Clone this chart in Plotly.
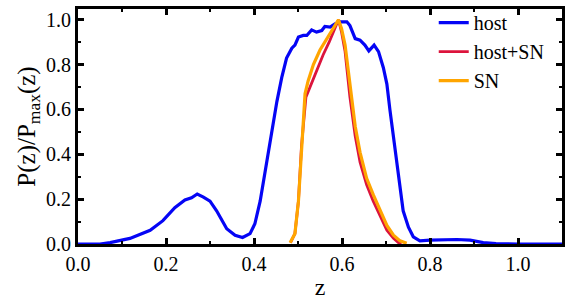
import plotly.graph_objects as go

# host photo-z PDF
host_z = [0.0, 0.02, 0.05, 0.073, 0.118, 0.164, 0.193, 0.22, 0.243, 0.258, 0.271, 0.285, 0.3, 0.315,
          0.338, 0.357, 0.374, 0.391, 0.402, 0.414, 0.429, 0.44, 0.452, 0.463, 0.474, 0.486, 0.493,
          0.501, 0.512, 0.52, 0.531, 0.542, 0.554, 0.561, 0.573, 0.584, 0.595, 0.611, 0.618, 0.63,
          0.641, 0.652, 0.661, 0.673, 0.683, 0.694, 0.702, 0.709, 0.717, 0.724, 0.732, 0.739, 0.751,
          0.762, 0.777, 0.8, 0.861, 0.891, 0.921, 0.95, 1.0, 1.1]
host_p = [0.0, 0.0, 0.0, 0.006, 0.025, 0.061, 0.104, 0.162, 0.196, 0.206, 0.223, 0.209, 0.191, 0.148,
          0.068, 0.039, 0.029, 0.046, 0.09, 0.191, 0.365, 0.51, 0.635, 0.742, 0.829, 0.873, 0.887,
          0.923, 0.93, 0.93, 0.955, 0.945, 0.952, 0.97, 0.967, 0.981, 0.991, 0.991, 0.974, 0.916,
          0.909, 0.887, 0.861, 0.887, 0.858, 0.786, 0.713, 0.597, 0.481, 0.365, 0.249, 0.148, 0.075,
          0.032, 0.014, 0.017, 0.02, 0.017, 0.006, 0.002, 0.0, 0.0]

# host+SN PDF
hsn_z = [0.483, 0.493, 0.501, 0.508, 0.518, 0.527, 0.542, 0.557, 0.571, 0.58, 0.592, 0.599, 0.607,
         0.618, 0.63, 0.641, 0.656, 0.671, 0.686, 0.702, 0.717, 0.728, 0.735]
hsn_p = [0.006, 0.046, 0.191, 0.438, 0.655, 0.699, 0.771, 0.843, 0.901, 0.945, 1.0, 0.945, 0.858,
         0.655, 0.481, 0.365, 0.264, 0.191, 0.126, 0.061, 0.025, 0.006, 0.0]

# SN-only PDF
sn_z = [0.482, 0.493, 0.501, 0.508, 0.516, 0.523, 0.535, 0.55, 0.565, 0.577, 0.592, 0.599, 0.607,
        0.618, 0.63, 0.641, 0.656, 0.671, 0.686, 0.702, 0.717, 0.732, 0.747]
sn_p = [0.006, 0.046, 0.191, 0.438, 0.67, 0.727, 0.8, 0.865, 0.916, 0.952, 1.0, 0.96, 0.887,
        0.699, 0.525, 0.409, 0.293, 0.22, 0.155, 0.083, 0.039, 0.014, 0.003]

x_ticks = [0.0, 0.2, 0.4, 0.6, 0.8, 1.0]
x_labels = ["0.0", "0.2", "0.4", "0.6", "0.8", "1.0"]
y_ticks = [0.0, 0.2, 0.4, 0.6, 0.8, 1.0]
y_labels = ["0.0", "0.2", "0.4", "0.6", "0.8", "1.0"]

FONT = "Liberation Serif"

fig = go.Figure()
fig.add_trace(go.Scatter(x=host_z, y=host_p, mode="lines", name="host",
                         line=dict(color="#0505f5", width=3.2)))
fig.add_trace(go.Scatter(x=hsn_z, y=hsn_p, mode="lines", name="host+SN",
                         line=dict(color="#dc143c", width=2.8)))
fig.add_trace(go.Scatter(x=sn_z, y=sn_p, mode="lines", name="SN",
                         line=dict(color="#ffa500", width=3.2)))

axis_common = dict(
    showline=True, linecolor="black", linewidth=3, mirror="allticks",
    ticks="inside", ticklen=6, tickwidth=2.5, tickcolor="black",
    showgrid=False, zeroline=False, automargin=False,
    tickfont=dict(family=FONT, size=20, color="black"),
)

fig.update_xaxes(range=[0, 1.1], tickvals=x_ticks, ticktext=x_labels,
                 minor=dict(dtick=0.1, tick0=0, ticks="inside", ticklen=3, tickwidth=2, tickcolor="black"),
                 title=dict(text="z", font=dict(family=FONT, size=24, color="black"), standoff=5),
                 **axis_common)
fig.update_yaxes(range=[0, 1.048], tickvals=y_ticks, ticktext=y_labels,
                 minor=dict(dtick=0.1, tick0=0, ticks="inside", ticklen=3, tickwidth=2, tickcolor="black"),
                 title=dict(text="P(z)/P<sub>max</sub>(z)", font=dict(family=FONT, size=25, color="black"),
                            standoff=4),
                 **axis_common)

fig.update_layout(
    width=565, height=300,
    margin=dict(l=78, r=3, t=3, b=56),
    plot_bgcolor="white", paper_bgcolor="white",
    font=dict(family=FONT, color="black"),
    legend=dict(x=0.735, y=1.025, xanchor="left", yanchor="top",
                bgcolor="rgba(0,0,0,0)", borderwidth=0,
                font=dict(family=FONT, size=20, color="black"),
                tracegroupgap=0),
    showlegend=True,
)

fig.write_html("out.html", config={"displayModeBar": False},
               post_script="document.body.style.margin='0';document.body.style.overflow='hidden';")
